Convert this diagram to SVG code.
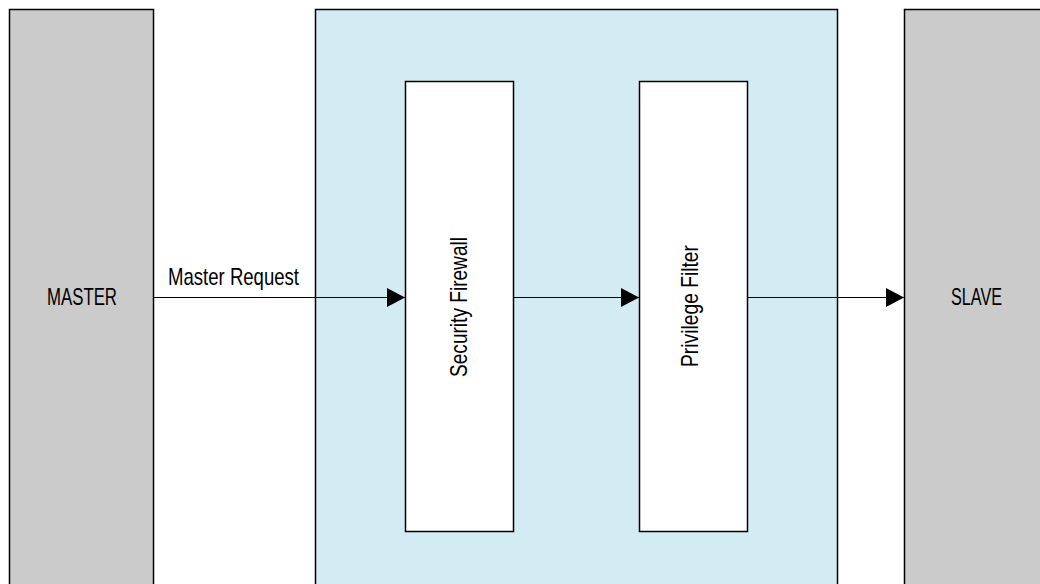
<svg xmlns="http://www.w3.org/2000/svg" width="1040" height="584" viewBox="0 0 1040 584">
<style>
.ep{fill:#cbcbcb;stroke:#000;stroke-width:1.5}
.sub{fill:#d3ecf3;stroke:#000;stroke-width:1.5}
.blk{fill:#fff;stroke:#000;stroke-width:1.5}
.t{font-family:"Liberation Sans",sans-serif;font-size:24px;fill:#000}
.c{stroke:#000;stroke-width:1.2;fill:none;marker-end:url(#ah)}
</style>
<defs>
<marker id="ah" markerUnits="userSpaceOnUse" markerWidth="18" markerHeight="20" refX="18" refY="9.5" orient="auto">
<path d="M0,0 L18,9.5 L0,19 Z" fill="#000"/>
</marker>
</defs>
<rect width="1040" height="584" fill="#fff"/>
<g id="master"><rect class="ep" x="9.5" y="9.5" width="144" height="590"/><text class="t" x="82" y="305" text-anchor="middle" textLength="70" lengthAdjust="spacingAndGlyphs">MASTER</text></g>
<g id="container"><rect class="sub" x="315.5" y="9.5" width="522" height="590"/></g>
<g id="slave"><rect class="ep" x="904.5" y="9.5" width="150" height="590"/><text class="t" x="976.5" y="305" text-anchor="middle" textLength="51" lengthAdjust="spacingAndGlyphs">SLAVE</text></g>
<g id="firewall"><rect class="blk" x="405.5" y="81.5" width="108" height="450"/><text class="t" transform="translate(467,307) rotate(-90)" text-anchor="middle" textLength="140" lengthAdjust="spacingAndGlyphs">Security Firewall</text></g>
<g id="filter"><rect class="blk" x="639.5" y="81.5" width="108" height="450"/><text class="t" transform="translate(698,306) rotate(-90)" text-anchor="middle" textLength="122" lengthAdjust="spacingAndGlyphs">Privilege Filter</text></g>
<g id="connectors">
<line class="c" x1="153.5" y1="297.5" x2="405" y2="297.5"/>
<line class="c" x1="513.5" y1="297.5" x2="639" y2="297.5"/>
<line class="c" x1="747.5" y1="297.5" x2="904" y2="297.5"/>
<text class="t" x="168" y="285" textLength="131" lengthAdjust="spacingAndGlyphs">Master Request</text>
</g>
</svg>
